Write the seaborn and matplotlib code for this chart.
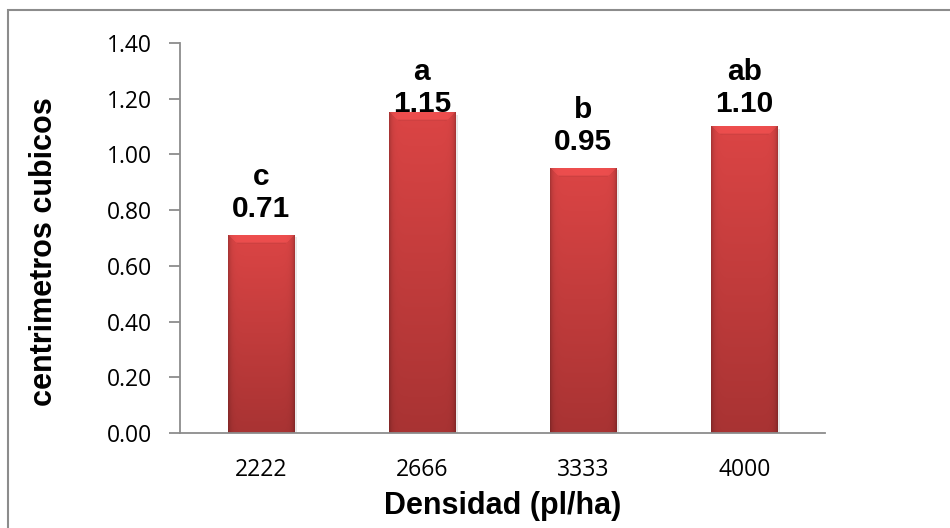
import numpy as np
import pandas as pd
import matplotlib
matplotlib.use("Agg")
import matplotlib.pyplot as plt
import seaborn as sns
from matplotlib.patches import Rectangle

# Volume per planting density, with the mean-separation letters
densidad = ["2222", "2666", "3333", "4000"]
volumen = [0.71, 1.15, 0.95, 1.10]
letras = ["c", "a", "b", "ab"]
yticks = [0.00, 0.20, 0.40, 0.60, 0.80, 1.00, 1.20, 1.40]

sns.set_theme(style="white")
plt.rcParams["font.family"] = ["Liberation Sans", "DejaVu Sans"]
plt.rcParams["text.color"] = "black"
plt.rcParams["axes.labelcolor"] = "black"

fig = plt.figure(figsize=(9.5, 5.28), dpi=100)
ax = fig.add_axes([0.1895, 0.1799, 0.6789, 0.7387])

df = pd.DataFrame({"Densidad": densidad, "Volumen": volumen})
sns.barplot(data=df, x="Densidad", y="Volumen", color="#C23A3A",
            saturation=1, width=0.41, ax=ax, zorder=2)

ax.set_ylim(0, 1.4)
ax.set_xlim(-0.5, 3.5)


def bevel_image(wpx, hpx):
    """Red bar fill: lighter top, darker bottom, shaded sides and a top bevel."""
    wpx, hpx = max(int(round(wpx)), 2), max(int(round(hpx)), 2)
    top = np.array([0.86, 0.27, 0.27])
    bot = np.array([0.66, 0.20, 0.20])
    t = np.linspace(0, 1, hpx)[:, None, None]
    img = top * (1 - t) + bot * t
    img = np.repeat(img, wpx, axis=1)
    xx = np.arange(wpx)[None, :]
    yy = np.arange(hpx)[:, None]
    dx = np.minimum(xx, wpx - 1 - xx)
    side = 1 - 0.22 * np.exp(-dx / 2.5)
    img = img * side[..., None]
    bev = (yy < 8) & (dx > yy)
    img[bev] = np.clip(img[bev] * 1.06 + 0.02, 0, 1)
    img[(yy >= 7) & (yy < 9) & (dx > yy)] *= 0.95
    return np.clip(img, 0, 1)


fig.canvas.draw()
sx = ax.transData.transform((1, 0))[0] - ax.transData.transform((0, 0))[0]
sy = ax.transData.transform((0, 1))[1] - ax.transData.transform((0, 0))[1]
for p in ax.patches:
    x0, y0, w, h = p.get_x(), p.get_y(), p.get_width(), p.get_height()
    # faint drop shadow
    ax.add_patch(Rectangle((x0 + 3 / sx, y0), w, h - 2 / sy, color="#d8d8d8",
                           zorder=1.5, lw=0, alpha=0.6))
    ax.imshow(bevel_image(w * sx, h * sy), extent=[x0, x0 + w, y0, y0 + h],
              aspect="auto", zorder=2.5, interpolation="bilinear")

ax.set_ylim(0, 1.4)
ax.set_xlim(-0.5, 3.5)

# value labels with letters above each bar, kept inside the plot area
for i, (v, l) in enumerate(zip(volumen, letras)):
    ax.text(i, min(v + 0.065, 1.152), f"{l}\n{v:.2f}", ha="center",
            va="baseline", fontsize=21.5, fontweight="bold",
            linespacing=1.2, color="black", zorder=4)

ax.set_yticks(yticks)
ax.set_yticklabels([f"{t:.2f}" for t in yticks], fontfamily="Open Sans",
                   fontsize=16.5)
ax.set_xticks(range(len(densidad)))
ax.set_xticklabels(densidad, fontfamily="Open Sans", fontsize=16.5)
ax.tick_params(axis="y", length=8, width=1.3, color="#8c8c8c", pad=12,
               left=True, labelcolor="black")
ax.tick_params(axis="x", length=0, pad=18, labelcolor="black")

for s in ["top", "right"]:
    ax.spines[s].set_visible(False)
for s in ["left", "bottom"]:
    ax.spines[s].set_color("#8c8c8c")
    ax.spines[s].set_linewidth(1.3)

ax.set_ylabel("centrimetros cubicos", fontsize=22, fontweight="bold",
              va="center")
ax.yaxis.set_label_coords((44 - 180) / 645, (433 - 252) / 390)
ax.set_xlabel("Densidad (pl/ha)", fontsize=22, fontweight="bold", va="center")
ax.xaxis.set_label_coords(0.5, (433 - 506) / 390)

# chart frame
fig.add_artist(Rectangle((8 / 950, -0.1), 1.2, 1 - 10 / 528 + 0.1,
                         transform=fig.transFigure, fill=False,
                         edgecolor="#8c8c8c", lw=1.5))

fig.savefig("out.png", dpi=100)
